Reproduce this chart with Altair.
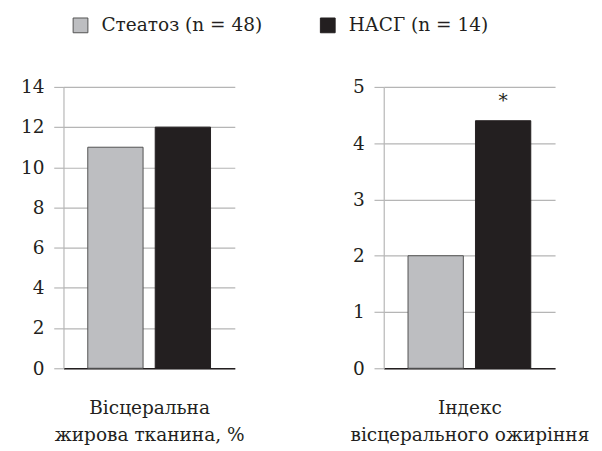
import altair as alt
import pandas as pd

groups = ["Стеатоз (n = 48)", "НАСГ (n = 14)"]
fat_pct = [11, 12]
vai = [2.0, 4.4]
sig_left = ["", ""]
sig_right = ["", "*"]
fill_colors = ["#bdbec1", "#231f20"]
stroke_colors = ["#505050", "#231f20"]

FONT = "DejaVu Serif"
INK = "#231f20"
GRID = "#b5b5b5"

df_left = pd.DataFrame({"group": groups, "value": fat_pct, "sig": sig_left})
df_right = pd.DataFrame({"group": groups, "value": vai, "sig": sig_right})


def panel(df, ymax, step, title, show_legend):
    x = alt.X(
        "group:N",
        sort=groups,
        scale=alt.Scale(paddingInner=0.18, paddingOuter=0.36),
        axis=alt.Axis(
            labels=False,
            ticks=False,
            domainColor=INK,
            domainWidth=1.6,
            title=title,
            titleFont=FONT,
            titleFontSize=19,
            titleFontWeight="normal",
            titleColor=INK,
            titlePadding=31,
            titleLineHeight=28,
        ),
    )
    y = alt.Y(
        "value:Q",
        scale=alt.Scale(domain=[0, ymax], nice=False),
        axis=alt.Axis(
            values=list(range(0, ymax + 1, step)),
            format="d",
            title=None,
            grid=True,
            gridColor=GRID,
            gridWidth=1.2,
            domainColor=GRID,
            domainWidth=1.2,
            tickColor=GRID,
            tickWidth=1.2,
            tickSize=10,
            labelPadding=10,
            labelFont=FONT,
            labelFontSize=19,
            labelColor=INK,
        ),
    )
    color = alt.Color(
        "group:N",
        sort=groups,
        scale=alt.Scale(domain=groups, range=fill_colors),
        legend=alt.Legend(
            orient="none",
            direction="horizontal",
            legendX=8,
            legendY=-73,
            title=None,
            symbolType="square",
            symbolSize=230,
            symbolStrokeColor="#505050",
            symbolStrokeWidth=1,
            labelFont=FONT,
            labelFontSize=19,
            labelColor=INK,
            labelOffset=12,
            labelLimit=400,
            columnPadding=56,
        )
        if show_legend
        else None,
    )
    stroke = alt.Stroke(
        "group:N",
        sort=groups,
        scale=alt.Scale(domain=groups, range=stroke_colors),
        legend=None,
    )
    bars = alt.Chart(df).mark_bar(strokeWidth=1).encode(x=x, y=y, color=color, stroke=stroke)
    stars = alt.Chart(df).mark_text(
        font=FONT, fontSize=19, color=INK, dy=-20, baseline="middle"
    ).encode(x=alt.X("group:N", sort=groups), y="value:Q", text="sig:N")
    return alt.layer(bars, stars).properties(width=176, height=289)


left = panel(df_left, 14, 2, ["Вісцеральна", "жирова тканина, %"], True)
right = panel(df_right, 5, 1, ["Індекс", "вісцерального ожиріння"], False)

chart = (
    alt.hconcat(left, right, spacing=153, bounds="flush")
    .resolve_scale(y="independent", color="shared")
    .configure_view(stroke=None)
    .properties(padding={"left": 12, "top": 2, "right": 5, "bottom": 5})
)

chart.save("out.html", embed_options={"renderer": "svg", "actions": False})
